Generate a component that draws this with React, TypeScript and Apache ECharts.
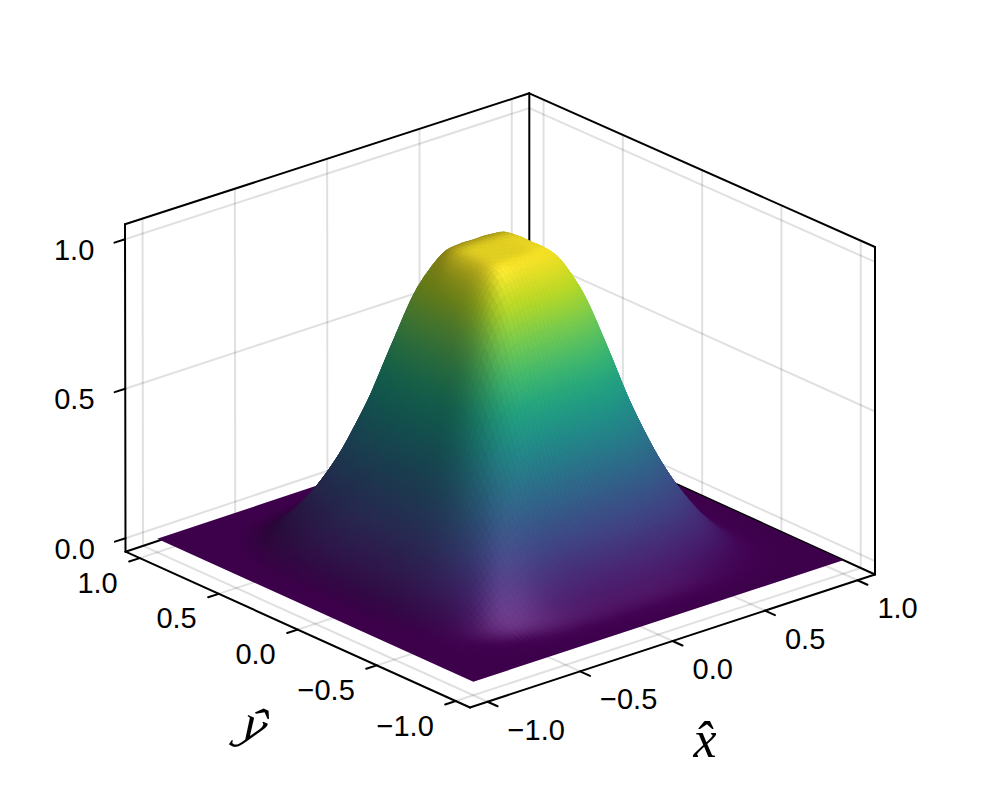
import React, { useEffect, useRef } from "react";
import * as echarts from "echarts";

const gridCoords = [-1,-0.917,-0.833,-0.75,-0.667,-0.583,-0.5,-0.417,-0.333,-0.25,-0.167,-0.083,0,0.083,0.167,0.25,0.333,0.417,0.5,0.583,0.667,0.75,0.833,0.917,1];
const heights = [
[0,0,0,0,0,0,0,0,0,0,0,0,0,0,0,0,0,0,0,0,0,0,0,0,0],
[0,0,0,0,0,0,0,0,0,0,0,0,0,0,0,0,0,0,0,0,0,0,0,0,0],
[0,0,0,0,0,.003,.006,.009,.013,.014,.015,.015,.015,.015,.015,.014,.013,.009,.006,.003,0,0,0,0,0],
[0,0,0,.001,.009,.025,.042,.056,.064,.068,.07,.07,.07,.07,.07,.068,.064,.056,.042,.025,.009,.001,0,0,0],
[0,0,0,.009,.035,.072,.1,.125,.141,.148,.151,.152,.152,.152,.151,.148,.141,.125,.1,.072,.035,.009,0,0,0],
[0,0,.003,.025,.072,.122,.17,.21,.237,.252,.258,.26,.26,.26,.258,.252,.237,.21,.17,.122,.072,.025,.003,0,0],
[0,0,.006,.042,.1,.17,.243,.307,.358,.386,.397,.4,.4,.4,.397,.386,.358,.307,.243,.17,.1,.042,.006,0,0],
[0,0,.009,.056,.125,.21,.307,.41,.49,.55,.57,.577,.577,.577,.57,.55,.49,.41,.307,.21,.125,.056,.009,0,0],
[0,0,.013,.064,.141,.237,.358,.49,.625,.715,.755,.767,.767,.767,.755,.715,.625,.49,.358,.237,.141,.064,.013,0,0],
[0,0,.014,.068,.148,.252,.386,.55,.715,.845,.9,.92,.92,.92,.9,.845,.715,.55,.386,.252,.148,.068,.014,0,0],
[0,0,.015,.07,.151,.258,.397,.57,.755,.9,.98,.995,.995,.995,.98,.9,.755,.57,.397,.258,.151,.07,.015,0,0],
[0,0,.015,.07,.152,.26,.4,.577,.767,.92,.995,1,1,1,.995,.92,.767,.577,.4,.26,.152,.07,.015,0,0],
[0,0,.015,.07,.152,.26,.4,.577,.767,.92,.995,1,1,1,.995,.92,.767,.577,.4,.26,.152,.07,.015,0,0],
[0,0,.015,.07,.152,.26,.4,.577,.767,.92,.995,1,1,1,.995,.92,.767,.577,.4,.26,.152,.07,.015,0,0],
[0,0,.015,.07,.151,.258,.397,.57,.755,.9,.98,.995,.995,.995,.98,.9,.755,.57,.397,.258,.151,.07,.015,0,0],
[0,0,.014,.068,.148,.252,.386,.55,.715,.845,.9,.92,.92,.92,.9,.845,.715,.55,.386,.252,.148,.068,.014,0,0],
[0,0,.013,.064,.141,.237,.358,.49,.625,.715,.755,.767,.767,.767,.755,.715,.625,.49,.358,.237,.141,.064,.013,0,0],
[0,0,.009,.056,.125,.21,.307,.41,.49,.55,.57,.577,.577,.577,.57,.55,.49,.41,.307,.21,.125,.056,.009,0,0],
[0,0,.006,.042,.1,.17,.243,.307,.358,.386,.397,.4,.4,.4,.397,.386,.358,.307,.243,.17,.1,.042,.006,0,0],
[0,0,.003,.025,.072,.122,.17,.21,.237,.252,.258,.26,.26,.26,.258,.252,.237,.21,.17,.122,.072,.025,.003,0,0],
[0,0,0,.009,.035,.072,.1,.125,.141,.148,.151,.152,.152,.152,.151,.148,.141,.125,.1,.072,.035,.009,0,0,0],
[0,0,0,.001,.009,.025,.042,.056,.064,.068,.07,.07,.07,.07,.07,.068,.064,.056,.042,.025,.009,.001,0,0,0],
[0,0,0,0,0,.003,.006,.009,.013,.014,.015,.015,.015,.015,.015,.014,.013,.009,.006,.003,0,0,0,0,0],
[0,0,0,0,0,0,0,0,0,0,0,0,0,0,0,0,0,0,0,0,0,0,0,0,0],
[0,0,0,0,0,0,0,0,0,0,0,0,0,0,0,0,0,0,0,0,0,0,0,0,0],
];
const xTicks = [-1, -0.5, 0, 0.5, 1];
const yTicks = [-1, -0.5, 0, 0.5, 1];
const zTicks = [0, 0.5, 1];
const xTickLabels = ["−1.0", "−0.5", "0.0", "0.5", "1.0"];
const yTickLabels = ["−1.0", "−0.5", "0.0", "0.5", "1.0"];
const zTickLabels = ["0.0", "0.5", "1.0"];
const xLabel = "x̂";
const yLabel = "ŷ";
const viridis = ["#440154","#482475","#414487","#355f8d","#2a788e","#21918c","#22a884","#44bf70","#7ad151","#bddf26","#fde725"];

const XR = 1.095, YR = 1.09, ZMIN = -0.045, ZMAX = 1.05;
// box corners on the page, index [u][v][w]
const C: number[][][][] = [
  [[[470, 707.5], [470, 375.5]], [[125.5, 551.7], [125, 224.3]]],
  [[[875, 574.5], [875, 247]], [[529.3, 417], [529.3, 93.3]]],
];
function proj(x: number, y: number, z: number): number[] {
  const u = (x + XR) / (2 * XR), v = (y + YR) / (2 * YR), w = (z - ZMIN) / (ZMAX - ZMIN);
  const out = [0, 0];
  for (let a = 0; a < 2; a++) for (let b = 0; b < 2; b++) for (let c = 0; c < 2; c++) {
    const f = (a ? u : 1 - u) * (b ? v : 1 - v) * (c ? w : 1 - w);
    out[0] += f * C[a][b][c][0];
    out[1] += f * C[a][b][c][1];
  }
  return out;
}
function hex(c: string) { return [1, 3, 5].map((k) => parseInt(c.slice(k, k + 2), 16)); }
const lut = viridis.map(hex);
function base(z: number) {
  const t = Math.max(0, Math.min(0.99999, z)) * (lut.length - 1);
  const k = Math.floor(t), f = t - k;
  return [0, 1, 2].map((m) => lut[k][m] * (1 - f) + lut[k + 1][m] * f);
}
// surface rendering refinement
const SUB = 4;
const N = (gridCoords.length - 1) * SUB + 1;
function cr(p0: number, p1: number, p2: number, p3: number, t: number) {
  return 0.5 * (2 * p1 + (p2 - p0) * t + (2 * p0 - 5 * p1 + 4 * p2 - p3) * t * t + (3 * p1 - p0 - 3 * p2 + p3) * t * t * t);
}
const M = gridCoords.length;
const at = (r: number, c: number) => heights[Math.max(0, Math.min(M - 1, r))][Math.max(0, Math.min(M - 1, c))];
const fine: number[][] = [];
for (let r = 0; r < N; r++) {
  const R = Math.min(M - 2, Math.floor(r / SUB)), tr = r / SUB - R;
  const row: number[] = [];
  for (let c = 0; c < N; c++) {
    const K = Math.min(M - 2, Math.floor(c / SUB)), tc = c / SUB - K;
    const col = [-1, 0, 1, 2].map((d) => cr(at(R + d, K - 1), at(R + d, K), at(R + d, K + 1), at(R + d, K + 2), tc));
    row.push(Math.max(0, Math.min(1, cr(col[0], col[1], col[2], col[3], tr))));
  }
  fine.push(row);
}
const fx = (c: number) => {
  const K = Math.min(M - 2, Math.floor(c / SUB));
  return gridCoords[K] + (gridCoords[K + 1] - gridCoords[K]) * (c / SUB - K);
};
// softened copy of the surface, used only for the light on it
function blur(src: number[][], rad: number) {
  const clamp = (v: number) => Math.max(0, Math.min(N - 1, v));
  const a = src.map((row) => row.map((_, c) => {
    let s = 0;
    for (let d = -rad; d <= rad; d++) s += row[clamp(c + d)];
    return s / (2 * rad + 1);
  }));
  return a.map((row, r) => row.map((_, c) => {
    let s = 0;
    for (let d = -rad; d <= rad; d++) s += a[clamp(r + d)][c];
    return s / (2 * rad + 1);
  }));
}
const soft = blur(blur(fine, 3), 1);
const norm = (v: number[]) => { const l = Math.hypot(v[0], v[1], v[2]); return v.map((a) => a / l); };
const AMB = 0.55, DL = [0.12, -0.37, 0.35], H = norm([-0.3, -0.62, 0.72]), SPEC = 0.17, SHINE = 26, SCALE = 1.6, SHADE_MAX = 0.97;
const STEP = fx(1) - fx(0);
function vertexColor(r: number, c: number) {
  const rp = Math.min(N - 1, r + 1), rm = Math.max(0, r - 1), cp = Math.min(N - 1, c + 1), cm = Math.max(0, c - 1);
  const dx = ((soft[r][cp] - soft[r][cm]) / ((cp - cm) * STEP)) * SCALE;
  const dy = ((soft[rp][c] - soft[rm][c]) / ((rp - rm) * STEP)) * SCALE;
  const n = norm([-dx, -dy, 1]);
  const diff = Math.min(SHADE_MAX, AMB + Math.max(0, n[0] * DL[0] + n[1] * DL[1] + n[2] * DL[2]));
  const z = fine[r][c];
  const s = SPEC * (1 - 0.7 * z) * Math.pow(Math.max(0, n[0] * H[0] + n[1] * H[1] + n[2] * H[2]), SHINE) * 255;
  return base(z).map((v) => Math.min(255, v * diff + s));
}
const vcol = fine.map((row, r) => row.map((_, c) => vertexColor(r, c)));
const css = (v: number[]) => `rgb(${Math.round(v[0])},${Math.round(v[1])},${Math.round(v[2])})`;
const mix = (a: number[], b: number[]) => [0, 1, 2].map((k) => (a[k] + b[k]) / 2);
const mid = (a: number[], b: number[]) => [(a[0] + b[0]) / 2, (a[1] + b[1]) / 2];
// cells from back to front; flat cells are covered by the single floor polygon
const cells: number[][] = [];
for (let r = N - 2; r >= 0; r--) for (let c = N - 2; c >= 0; c--) {
  const sum = soft[r][c] + soft[r + 1][c] + soft[r][c + 1] + soft[r + 1][c + 1];
  if (sum > 0.0002) cells.push([c, r]);
}

const FONT = "'Liberation Sans', Arial, sans-serif";
const BLACK = "#000", GRID = "rgba(0,0,0,0.12)";
const x0 = -XR, x1 = XR, y0 = -YR, y1 = YR;

function App() {
  const ref = useRef<HTMLDivElement>(null);
  useEffect(() => {
    const chart = echarts.init(ref.current!, undefined, { renderer: "svg" });
    const seg = (api: any, a: number[], b: number[], stroke: string, lineWidth: number) => {
      const p = api.coord(a), q = api.coord(b);
      return { type: "line", shape: { x1: p[0], y1: p[1], x2: q[0], y2: q[1] }, style: { stroke, lineWidth, lineCap: "round" }, silent: true };
    };
    const backItems = (api: any) => {
      const ch: any[] = [];
      const L = (a: number[], b: number[]) => ch.push(seg(api, proj(a[0], a[1], a[2]), proj(b[0], b[1], b[2]), GRID, 2));
      xTicks.forEach((t) => { L([t, y0, ZMIN], [t, y1, ZMIN]); L([t, y1, ZMIN], [t, y1, ZMAX]); });
      yTicks.forEach((t) => { L([x0, t, ZMIN], [x1, t, ZMIN]); L([x1, t, ZMIN], [x1, t, ZMAX]); });
      zTicks.forEach((t) => { L([x0, y1, t], [x1, y1, t]); L([x1, y0, t], [x1, y1, t]); });
      const B = (a: number[], b: number[]) => ch.push(seg(api, proj(a[0], a[1], a[2]), proj(b[0], b[1], b[2]), BLACK, 2));
      B([x0, y1, ZMAX], [x1, y1, ZMAX]);
      B([x1, y0, ZMAX], [x1, y1, ZMAX]);
      B([x1, y1, ZMIN], [x1, y1, ZMAX]);
      B([x0, y1, ZMIN], [x0, y1, ZMAX]);
      B([x1, y0, ZMIN], [x1, y0, ZMAX]);
      B([x0, y1, ZMIN], [x1, y1, ZMIN]);
      B([x1, y0, ZMIN], [x1, y1, ZMIN]);
      return { type: "group", children: ch };
    };
    const frontItems = (api: any) => {
      const ch: any[] = [];
      const B = (a: number[], b: number[]) => ch.push(seg(api, proj(a[0], a[1], a[2]), proj(b[0], b[1], b[2]), BLACK, 2));
      B([x0, y1, ZMIN], [x0, y0, ZMIN]);
      B([x0, y0, ZMIN], [x1, y0, ZMIN]);
      const T = (p: number[], d: number[]) => ch.push(seg(api, p, [p[0] + d[0], p[1] + d[1]], BLACK, 2));
      const label = (text: string, p: number[], align: string) => {
        const q = api.coord(p);
        ch.push({ type: "text", x: q[0], y: q[1], silent: true, style: { text, fontFamily: FONT, fontSize: 29, fill: "#000", align, verticalAlign: "middle" } });
      };
      xTicks.forEach((t, i) => {
        const p = proj(t, y0, ZMIN);
        T(p, [10, 4.5]);
        label(xTickLabels[i], [p[0] + 20, p[1] + 28], "left");
      });
      yTicks.forEach((t, i) => {
        const p = proj(x0, t, ZMIN);
        T(p, [-10.6, 3.4]);
        label(yTickLabels[i], [p[0] - 22, p[1] + 24.5], "right");
      });
      zTicks.forEach((t, i) => {
        const p = proj(x0, y1, t);
        T(p, [-10.6, 3.4]);
        label(zTickLabels[i], [p[0] - 30.7, p[1] + 10.5], "right");
      });
      const xa = api.coord([705, 739]), ya = api.coord([255, 725]);
      ch.push({ type: "text", x: xa[0], y: xa[1], silent: true, style: { text: xLabel, fontFamily: "'Liberation Serif', serif", fontStyle: "italic", fontSize: 52, fill: "#000", align: "center", verticalAlign: "middle" } });
      ch.push({ type: "text", x: ya[0], y: ya[1], rotation: -0.42, silent: true, style: { text: yLabel, fontFamily: "'Liberation Serif', serif", fontStyle: "italic", fontSize: 52, fill: "#000", align: "center", verticalAlign: "middle" } });
      return { type: "group", children: ch };
    };
    chart.setOption({
      animation: false,
      backgroundColor: "#fff",
      grid: { left: 0, right: 0, top: 0, bottom: 0 },
      xAxis: { type: "value", min: 0, max: 1000, show: false },
      yAxis: { type: "value", min: 0, max: 800, inverse: true, show: false },
      series: [
        { type: "custom", name: "frame", coordinateSystem: "cartesian2d", clip: false, z: 1, data: [[0, 0]], renderItem: (_: any, api: any) => backItems(api), silent: true },
        {
          type: "custom", name: "floor", coordinateSystem: "cartesian2d", clip: false, z: 2, data: [[0, 0]], silent: true,
          renderItem: (_: any, api: any) => {
            const a = gridCoords[0], b = gridCoords[M - 1];
            const pts = [[a, a], [b, a], [b, b], [a, b]].map((q) => api.coord(proj(q[0], q[1], 0)));
            return { type: "polygon", shape: { points: pts }, style: { fill: css(vcol[0][0]) }, silent: true };
          },
        },
        {
          type: "custom", name: "surface", coordinateSystem: "cartesian2d", clip: false, z: 3, progressive: 0, silent: true,
          data: cells,
          renderItem: (params: any, api: any) => {
            const [c, r] = cells[params.dataIndex];
            const corner = (cc: number, rr: number) => api.coord(proj(fx(cc), fx(rr), fine[rr][cc]));
            const p00 = corner(c, r), p10 = corner(c + 1, r), p11 = corner(c + 1, r + 1), p01 = corner(c, r + 1);
            const c00 = vcol[r][c], c10 = vcol[r][c + 1], c11 = vcol[r + 1][c + 1], c01 = vcol[r + 1][c];
            const a = Math.abs(fine[r][c + 1] + fine[r + 1][c + 1] - fine[r][c] - fine[r + 1][c]);
            const b = Math.abs(fine[r + 1][c] + fine[r + 1][c + 1] - fine[r][c] - fine[r][c + 1]);
            let s: number[], e: number[], cs: number[], ce: number[];
            if (a > 2 * b) { s = mid(p00, p01); e = mid(p10, p11); cs = mix(c00, c01); ce = mix(c10, c11); }
            else if (b > 2 * a) { s = mid(p00, p10); e = mid(p01, p11); cs = mix(c00, c10); ce = mix(c01, c11); }
            else if ((fine[r][c + 1] - fine[r][c]) * (fine[r + 1][c] - fine[r][c]) >= 0) { s = p00; e = p11; cs = c00; ce = c11; }
            else { s = p10; e = p01; cs = c10; ce = c01; }
            const fill = new echarts.graphic.LinearGradient(s[0], s[1], e[0], e[1], [
              { offset: 0, color: css(cs) },
              { offset: 1, color: css(ce) },
            ], true);
            return {
              type: "polygon",
              shape: { points: [p00, p10, p11, p01] },
              style: { fill, stroke: fill, lineWidth: 0.6 },
              silent: true,
            };
          },
        },
        { type: "custom", name: "axes", coordinateSystem: "cartesian2d", clip: false, z: 4, data: [[0, 0]], renderItem: (_: any, api: any) => frontItems(api), silent: true },
      ],
    });
    return () => chart.dispose();
  }, []);
  return <div ref={ref} style={{ position: "fixed", left: 0, top: 0, width: 1000, height: 800 }} />;
}
export default App;
